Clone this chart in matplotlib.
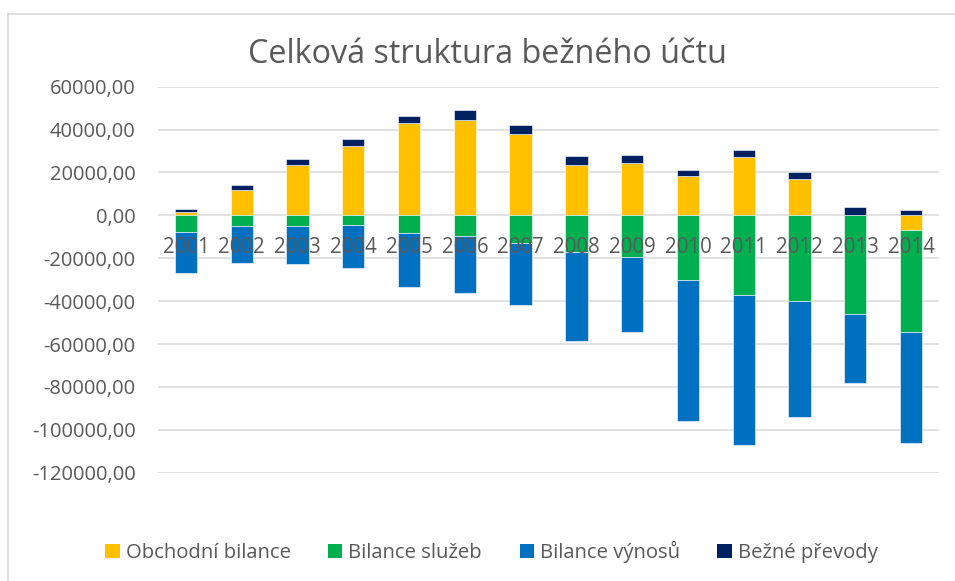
import matplotlib.pyplot as plt
import matplotlib.transforms as mtransforms
from matplotlib.lines import Line2D
from matplotlib.patches import Patch
from matplotlib.ticker import FuncFormatter
import numpy as np

plt.rcParams['font.family'] = ['Open Sans', 'DejaVu Sans']

years = ["2001", "2002", "2003", "2004", "2005", "2006", "2007",
         "2008", "2009", "2010", "2011", "2012", "2013", "2014"]
obchodni = [1500, 11900, 23400, 32200, 43000, 44500, 38000,
            23400, 24600, 18200, 27400, 17100, 0, -6600]
sluzby = [-7700, -4900, -4900, -4500, -8200, -9400, -13100,
          -17000, -19600, -30000, -37100, -40000, -46200, -47800]
vynosy = [-19100, -17500, -17800, -19900, -25100, -26800, -28800,
          -41600, -34800, -66100, -69800, -53900, -32000, -51700]
prevody = [1600, 2300, 2900, 3200, 3500, 4500, 4000,
           4300, 3500, 2900, 3000, 2900, 4000, 2600]

names = ["Obchodní bilance", "Bilance služeb", "Bilance výnosů", "Bežné převody"]
colors = ["#FFC000", "#00B050", "#0070C0", "#002060"]
txt = "#595959"

fig = plt.figure(figsize=(9.55, 5.81), dpi=100)
ax = fig.add_axes([158 / 955, 1 - 472.7 / 581, 781 / 955, 386 / 581])

x = np.arange(len(years))
pos = np.zeros(len(years))
neg = np.zeros(len(years))
for vals, c in zip([obchodni, sluzby, vynosy, prevody], colors):
    v = np.array(vals, dtype=float)
    bottom = np.where(v >= 0, pos, neg)
    ax.bar(x, v, 0.4, bottom=bottom, color=c, edgecolor="white",
           linewidth=0.4, zorder=3)
    pos += np.where(v >= 0, v, 0)
    neg += np.where(v < 0, v, 0)

ax.set_xlim(-0.5, len(years) - 0.5)
ax.set_ylim(-120000, 60000)
ax.set_yticks(np.arange(-120000, 60001, 20000))
ax.yaxis.set_major_formatter(FuncFormatter(lambda v, p: f"{v:.2f}".replace(".", ",")))
ax.tick_params(axis="y", length=0, pad=16, labelsize=14.5, labelcolor=txt)
ax.set_xticks([])
ax.grid(axis="y", color="#d9d9d9", linewidth=1.1, zorder=0)
for s in ax.spines.values():
    s.set_visible(False)

# category labels sit just under the zero line (Excel style)
off = mtransforms.offset_copy(ax.transData, fig=fig, y=-22, units="dots")
for i, yr in enumerate(years):
    ax.text(i, 0, yr, transform=off, ha="center", va="top",
            fontsize=14.8, color=txt, zorder=4)

fig.text(487.5 / 955, 1 - 63 / 581, "Celková struktura bežného účtu",
         ha="center", va="baseline", fontsize=23.3, color=txt)

handles = [Patch(facecolor=c, edgecolor="none") for c in colors]
fig.legend(handles, names, loc="center", bbox_to_anchor=(491.5 / 955, 1 - 552 / 581),
           ncol=4, frameon=False, fontsize=14.6, labelcolor=txt,
           handlelength=0.7, handleheight=0.7, handletextpad=0.3,
           columnspacing=1.85)

# chart area border
fig.add_artist(Line2D([7.5 / 955, 7.5 / 955], [0, 1 - 14 / 581],
                      color="#d9d9d9", linewidth=1.2))
fig.add_artist(Line2D([7.5 / 955, 1], [1 - 14 / 581, 1 - 14 / 581],
                      color="#d9d9d9", linewidth=1.2))

fig.savefig("out.png", dpi=100)
